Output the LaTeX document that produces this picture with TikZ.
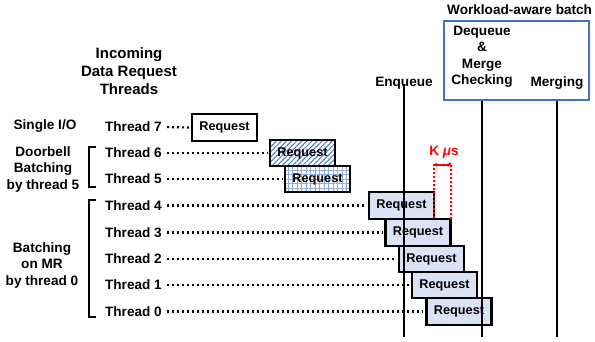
\documentclass[tikz,border=0pt]{standalone}
\usepackage{fontspec}
\setmainfont{Liberation Sans}
\usetikzlibrary{patterns.meta,arrows.meta}
\definecolor{boxblue}{HTML}{DAE3F3}
\definecolor{frameblue}{HTML}{4472C4}
\definecolor{hatchblue}{HTML}{4F74C4}
\definecolor{gridblue}{HTML}{8FAADC}
\definecolor{kred}{HTML}{FF0000}
\tikzset{
  lbl/.style={font=\bfseries\fontsize{13.6}{16.5}\selectfont, align=center, inner sep=0pt},
  hdr/.style={font=\bfseries\fontsize{15}{18}\selectfont, align=center, inner sep=0pt},
  req/.style={draw=black, line width=2.3pt, minimum width=65pt, minimum height=26.5pt, inner sep=0pt,
     font=\bfseries\fontsize{12.7}{15}\selectfont},
  reqfill/.style={req, fill=boxblue},
  dotline/.style={line width=2.2pt, dash pattern=on 2.2pt off 2.8pt},
  vline/.style={line width=2pt},
  brack/.style={line width=2pt},
  reddot/.style={draw=kred, line width=2pt, dash pattern=on 2pt off 2pt},
}
\begin{document}
\begin{tikzpicture}[x=1pt,y=-1pt]
\useasboundingbox (0,0) rectangle (595,341);

% header and left labels
\node[hdr] (head) at (129,71) {Incoming\\Data Request\\Threads};
\node[lbl] (single) at (45,126) {Single I/O};
\node[lbl] (door) at (43,169) {Doorbell\\Batching\\by thread 5};
\node[lbl] (mr) at (42,265) {Batching\\on MR\\by thread 0};

% brackets
\draw[brack] (96,147) -- (89,147) -- (89,187) -- (96,187);
\draw[brack] (96,200) -- (89,200) -- (89,317) -- (96,317);

% thread labels
\node[lbl, anchor=east] (th7) at (162,127) {Thread 7};
\node[lbl, anchor=east] (th6) at (162,153) {Thread 6};
\node[lbl, anchor=east] (th5) at (162,179) {Thread 5};
\node[lbl, anchor=east] (th4) at (162,205.5) {Thread 4};
\node[lbl, anchor=east] (th3) at (162,232.5) {Thread 3};
\node[lbl, anchor=east] (th2) at (162,259) {Thread 2};
\node[lbl, anchor=east] (th1) at (162,285) {Thread 1};
\node[lbl, anchor=east] (th0) at (162,311.5) {Thread 0};

% request boxes
\node[req, fill=white] (r7) at (224.5,127.5) {Request};
\node[req, preaction={fill=white}, pattern={Lines[angle=45,distance=3.6pt,line width=1pt]}, pattern color=hatchblue] (r6) at (302.5,153) {Request};
\node[req, preaction={fill=white}, pattern={Hatch[angle=0,distance=4.5pt,line width=0.7pt]}, pattern color=gridblue] (r5) at (317.5,179) {Request};
\node[reqfill] (r4) at (401.5,205.5) {Request};
\node[reqfill] (r3) at (418,232.5) {Request};
\node[reqfill] (r2) at (431.5,259) {Request};
\node[reqfill] (r1) at (444.5,285) {Request};
\node[reqfill] (r0) at (459,311.5) {Request};

% dotted connectors
\foreach \i in {7,6,5,4,3,2,1,0}{
  \draw[dotline, shorten <=5pt, shorten >=2pt] (th\i.east) -- (r\i.west);
}

% workload-aware box
\node[lbl, anchor=west] (wtitle) at (447,10) {Workload-aware batch};
\node[draw=frameblue, line width=2.3pt, minimum width=145pt, minimum height=79pt, inner sep=0pt] (wab) at (516.5,60.5) {};
\node[lbl] (deq) at (482,57) {Dequeue\\\&\\Merge\\Checking};
\node[lbl] (merg) at (557,83) {Merging};
\node[lbl] (enq) at (404,83) {Enqueue};

% vertical time lines
\coordinate (enqb) at (404,337);
\coordinate (deqb) at (482,337);
\coordinate (mergb) at (557,337);
\draw[vline] ([yshift=5pt]enq.south) -- (enqb);
\draw[vline] (wab.south -| deqb) -- (deqb);
\draw[vline] (wab.south -| mergb) -- (mergb);

% K mu s annotation
\node[font=\bfseries\fontsize{13.6}{15}\selectfont, text=kred, inner sep=0pt] (kmu) at (444,152) {K {\itshape μ}s};
\coordinate (ka) at (434,165);
\coordinate (kb) at (451,165);
\coordinate (ka2) at (434,218);
\coordinate (kb2) at (451,219);
\draw[reddot, rounded corners=2pt] (ka2) -- ([yshift=3pt]ka) -- ([xshift=2pt]ka);
\draw[reddot, rounded corners=2pt] (kb2) -- ([yshift=3pt]kb) -- ([xshift=-2pt]kb);
\draw[kred, line width=1.2pt, {Stealth[length=3.5pt,width=4pt]}-{Stealth[length=3.5pt,width=4pt]}] (ka) -- (kb);
\end{tikzpicture}
\end{document}
